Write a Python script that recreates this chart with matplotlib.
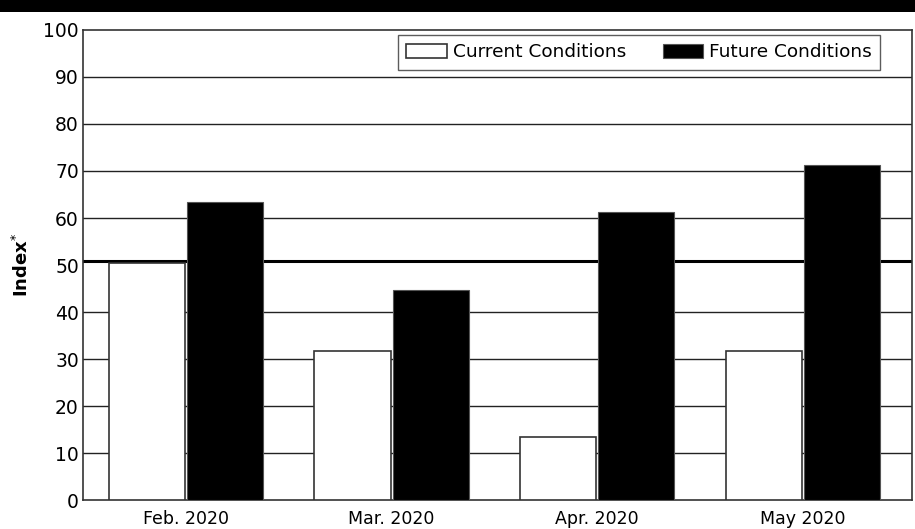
import matplotlib.pyplot as plt
import numpy as np
from matplotlib.patches import Rectangle

months = ["Feb. 2020", "Mar. 2020", "Apr. 2020", "May 2020"]
current = [50.5, 31.6, 13.4, 31.6]
future = [63.3, 44.6, 61.2, 71.3]
threshold = 50.8
y_ticks = list(range(0, 101, 10))

plt.rcParams['font.family'] = ['DejaVu Sans']

fig = plt.figure(figsize=(9.15, 5.29), dpi=100)
ax = fig.add_axes([0.0907, 0.0548, 0.906, 0.8885])

# black banner across the top
fig.patches.append(Rectangle((0, 0.977), 1, 0.023, transform=fig.transFigure,
                             facecolor='black', edgecolor='none'))

x = np.arange(len(months))
w = 0.37
ax.bar(x - w / 2 - 0.005, current, w, color='white', edgecolor='#333333',
       linewidth=1.2, label="Current Conditions", zorder=3)
ax.bar(x + w / 2 + 0.005, future, w, color='black', edgecolor='#555555',
       linewidth=0.8, label="Future Conditions", zorder=3)

for t in y_ticks[1:-1]:
    if t == 50:
        continue
    ax.axhline(t, color='#222222', linewidth=1.0, zorder=1)
ax.axhline(threshold, color='black', linewidth=2.2, zorder=2)

ax.set_xlim(-0.5, 3.53)
ax.set_ylim(0, 100)
ax.set_yticks(y_ticks)
ax.set_xticks(x)
ax.set_xticklabels(months, fontsize=12.5)
ax.tick_params(axis='y', labelsize=13.5, length=0, pad=3)
ax.tick_params(axis='x', length=0, pad=7)
for s in ax.spines.values():
    s.set_color('#333333')
    s.set_linewidth(1.2)

ax.set_ylabel(r"Index$^{*}$", fontsize=13, fontweight='bold', labelpad=8)

leg = ax.legend(loc='upper right', ncol=2, fontsize=13.3, frameon=True,
                fancybox=False, edgecolor='#333333', handlelength=2.2,
                handleheight=0.75, columnspacing=2.0, handletextpad=0.3,
                borderpad=0.45, borderaxespad=0, bbox_to_anchor=(0.9614, 0.989))
leg.get_frame().set_linewidth(1.0)

fig.savefig("out.png", dpi=100)
